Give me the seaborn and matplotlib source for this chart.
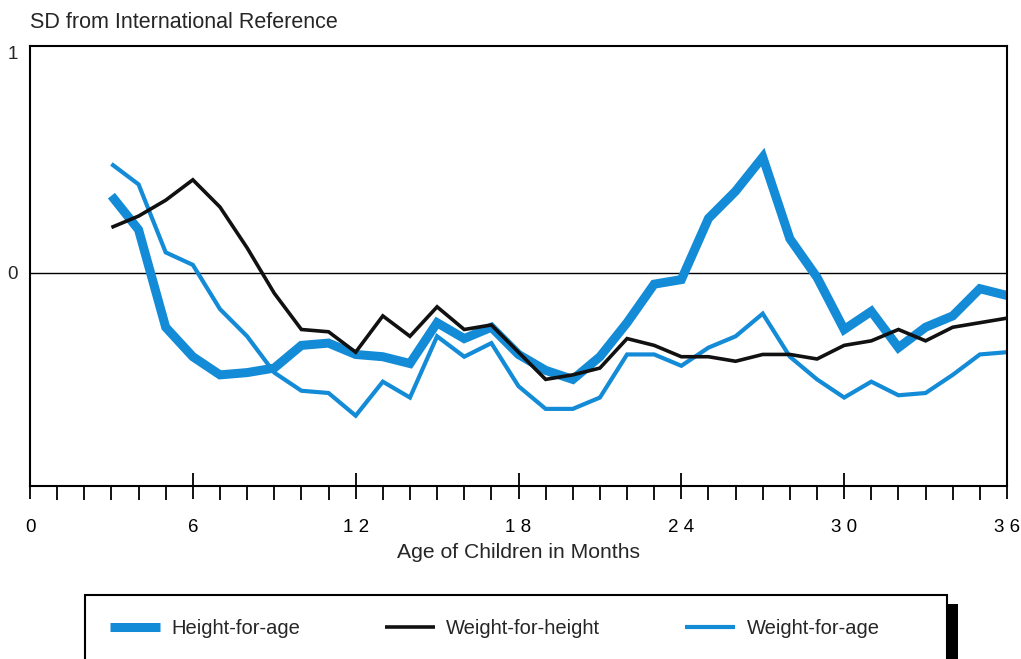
import numpy as np
import pandas as pd
import matplotlib
matplotlib.use("Agg")
import matplotlib.pyplot as plt
import seaborn as sns
from matplotlib.patches import Rectangle
from matplotlib.ticker import MultipleLocator

# Datos (SD respecto a la referencia internacional)
months = list(range(3, 37))
height_for_age = [0.34, 0.19, -0.24, -0.37, -0.45, -0.44, -0.42, -0.32, -0.31, -0.36,
                  -0.37, -0.40, -0.22, -0.29, -0.24, -0.36, -0.43, -0.47, -0.37, -0.22,
                  -0.05, -0.03, 0.24, 0.36, 0.51, 0.15, -0.02, -0.25, -0.17, -0.33,
                  -0.24, -0.19, -0.07, -0.10]
weight_for_height = [0.20, 0.25, 0.32, 0.41, 0.29, 0.11, -0.09, -0.25, -0.26, -0.35,
                     -0.19, -0.28, -0.15, -0.25, -0.23, -0.35, -0.47, -0.45, -0.42, -0.29,
                     -0.32, -0.37, -0.37, -0.39, -0.36, -0.36, -0.38, -0.32, -0.30, -0.25,
                     -0.30, -0.24, -0.22, -0.20]
weight_for_age = [0.48, 0.39, 0.09, 0.035, -0.16, -0.28, -0.44, -0.52, -0.53, -0.63,
                  -0.48, -0.55, -0.28, -0.37, -0.31, -0.50, -0.60, -0.60, -0.55, -0.36,
                  -0.36, -0.41, -0.33, -0.28, -0.18, -0.37, -0.47, -0.55, -0.48, -0.54,
                  -0.53, -0.45, -0.36, -0.35]

series_names = ["Height-for-age", "Weight-for-height", "Weight-for-age"]
x_ticks = [0, 6, 12, 18, 24, 30, 36]
x_ticklabels = ["0", "6", "1 2", "1 8", "2 4", "3 0", "3 6"]

df = pd.DataFrame({
    "month": months * 3,
    "sd": height_for_age + weight_for_height + weight_for_age,
    "serie": np.repeat(series_names, len(months)),
})

blue = "#138bd6"
palette = {"Height-for-age": blue, "Weight-for-height": "#111111", "Weight-for-age": blue}

sns.set_style("white")
plt.rcParams["font.family"] = ["Liberation Sans", "DejaVu Sans"]

W, H = 1021, 659
fig = plt.figure(figsize=(W / 100, H / 100), dpi=100)
ax = fig.add_axes([30 / W, 1 - 486 / H, (1007 - 30) / W, (486 - 46) / H])

widths = {"Height-for-age": 6.5, "Weight-for-height": 2.6, "Weight-for-age": 3.0}
for name in series_names:
    sub = df[df["serie"] == name]
    sns.lineplot(data=sub, x="month", y="sd", color=palette[name], lw=widths[name],
                 ax=ax, label=name, solid_joinstyle="miter", solid_capstyle="butt",
                 zorder=3 if name == "Weight-for-height" else 2)

ax.axhline(0, color="black", lw=1.0, zorder=1)
ax.set_xlim(0, 36)
ax.set_ylim(-0.94, 1.0)

for s in ax.spines.values():
    s.set_color("black")
    s.set_linewidth(1.5)

ax.set_xticks(x_ticks)
ax.set_xticklabels(x_ticklabels, fontsize=13.5)
ax.xaxis.set_minor_locator(MultipleLocator(1))
ax.tick_params(axis="x", which="major", direction="inout", length=19, width=1.3,
               colors="black", pad=14, bottom=True)
ax.tick_params(axis="x", which="minor", direction="out", length=10, width=1.3,
               colors="black", bottom=True)
ax.set_yticks([0, 1])
ax.set_yticklabels(["0", "1"], fontsize=13.5)
ax.get_yticklabels()[1].set_va("top")
ax.tick_params(axis="y", length=0, pad=9)
ax.set_xlabel("Age of Children in Months", fontsize=15.2, labelpad=5)
ax.set_ylabel("")
ax.get_legend().remove()

fig.text(30 / W, 1 - 22 / H, "SD from International Reference", fontsize=15.5,
         ha="left", va="center")

# Caja de leyenda con sombra negra
fig.add_artist(Rectangle((95 / W, 1 - 700 / H), (958 - 95) / W, (700 - 604) / H,
                         transform=fig.transFigure, facecolor="black", edgecolor="none", zorder=1))
fig.add_artist(Rectangle((85 / W, 1 - 690 / H), (947 - 85) / W, (690 - 595) / H,
                         transform=fig.transFigure, facecolor="white", edgecolor="black",
                         lw=1.5, zorder=2))
handles, labels = ax.get_legend_handles_labels()
leg = fig.legend(handles, labels, loc="center left", bbox_to_anchor=(110 / W, 1 - 629 / H),
                 ncol=3, frameon=False, fontsize=14.5, handlelength=2.5, handletextpad=0.55,
                 columnspacing=4.2, borderpad=0, borderaxespad=0)
leg.set_zorder(3)

fig.savefig("out.png", dpi=100)
